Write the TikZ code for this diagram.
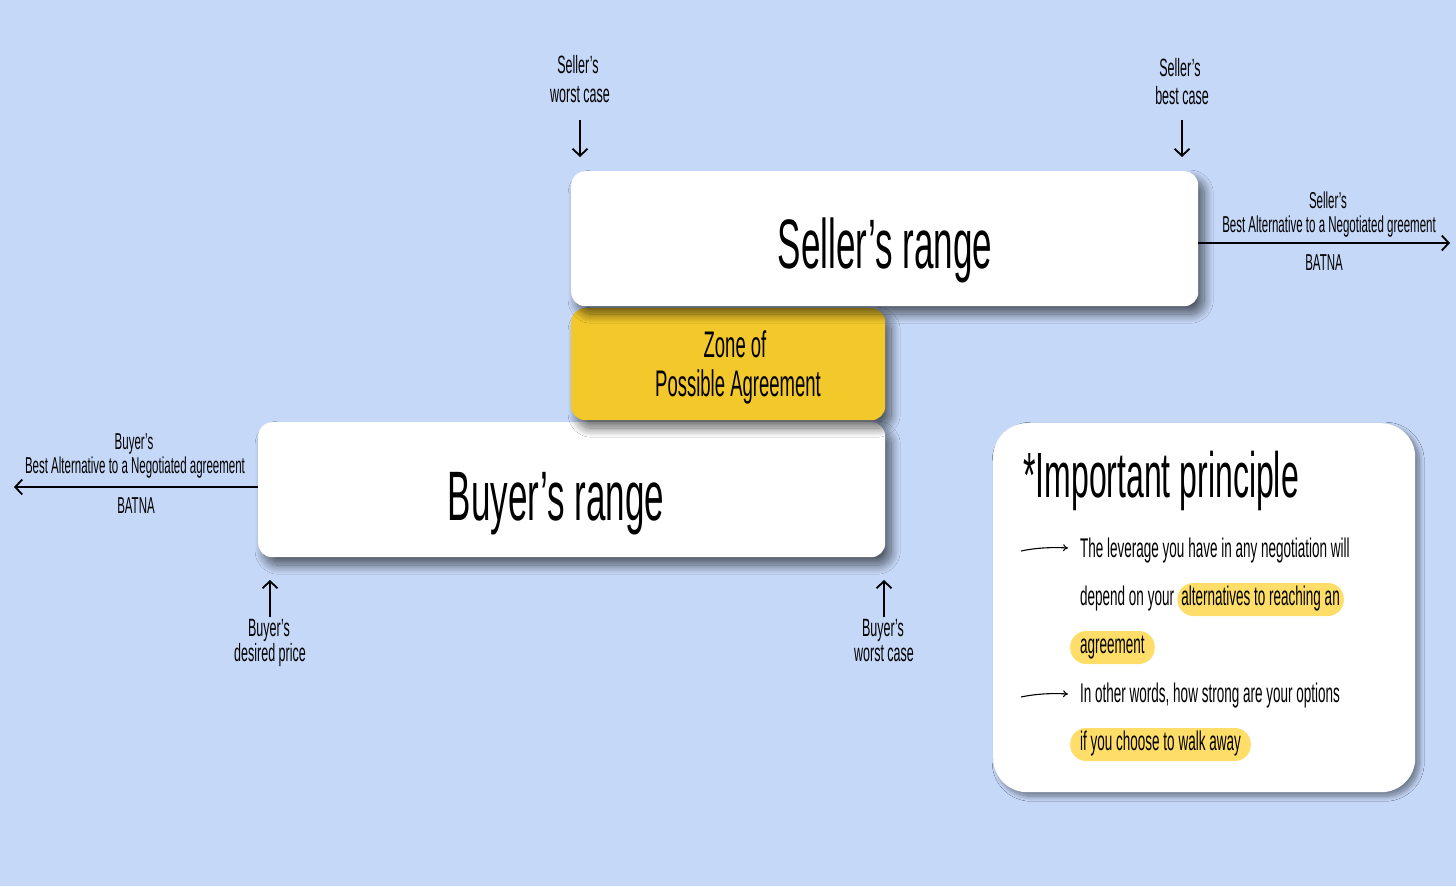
\documentclass[tikz,border=0pt]{standalone}
\usepackage{fontspec}
\newfontfamily\hand[FakeStretch=0.5]{Liberation Sans}
\usetikzlibrary{arrows.meta,shadows.blur}
\definecolor{bg}{RGB}{198,216,248}
\definecolor{zopa}{RGB}{242,200,42}
\definecolor{hl}{RGB}{254,222,104}
\begin{document}
\begin{tikzpicture}[x=1pt,y=-1pt,
  panel/.style={draw=none, fill=white, rounded corners=14pt, anchor=north west, inner sep=0pt,
    blur shadow={shadow xshift=6pt, shadow yshift=-8pt, shadow blur radius=9pt, shadow opacity=60, shadow blur steps=20}},
  big/.style={font=\hand\fontsize{70}{80}\selectfont, anchor=base, inner sep=0pt},
  mid/.style={font=\hand\fontsize{37}{42}\selectfont, anchor=base, inner sep=0pt},
  lbl/.style={font=\hand\fontsize{25}{28}\selectfont, anchor=base, inner sep=0pt},
  blbl/.style={font=\hand\fontsize{23}{26}\selectfont, anchor=base, inner sep=0pt},
  body/.style={font=\hand\fontsize{27}{30}\selectfont, anchor=base west, inner sep=0pt},
  hlbox/.style={body, fill=hl, rounded corners=16pt, text height=18pt, text depth=7pt, inner ysep=4pt},
  arr/.style={line width=1.8pt, -{Straight Barb[length=7pt,width=15pt,line width=1.8pt]}},
  bul/.style={line width=1.1pt, -{To[length=5pt,width=7pt]}}
]
\fill[bg] (0,0) rectangle (1456,886);
\useasboundingbox (0,0) rectangle (1456,886);

% boxes
\node[panel, minimum width=627pt, minimum height=135pt] (buyer) at (258,422) {};
\node[panel, fill=zopa, minimum width=314pt, minimum height=112pt] (zopa) at (571,308) {};
\node[panel, minimum width=627pt, minimum height=135pt] (seller) at (571,171) {};
\node[panel, rounded corners=34pt, minimum width=422pt, minimum height=369pt,
  blur shadow={shadow xshift=4pt, shadow yshift=-4pt, shadow blur radius=5pt, shadow opacity=25, shadow blur steps=12}] (imp) at (993,423) {};

% box texts
\node[big] (sr) at (885,268) {Seller’s range};
\node[big] (br) at (556,520) {Buyer’s range};
\node[mid] (z1) at (735,357) {Zone of};
\node[mid] (z2) at (738,396) {Possible Agreement};

% seller worst case
\node[lbl] (sw1) at (578,73) {Seller’s};
\node[lbl] (sw2) at (580,102) {worst case};
\coordinate (swa) at (580,120);
\coordinate (swb) at (580,157);
\draw[arr] (swa) -- (swb);

% seller best case
\node[lbl] (sb1) at (1180,76) {Seller’s};
\node[lbl] (sb2) at (1182,104) {best case};
\coordinate (sba) at (1182,120);
\coordinate (sbb) at (1182,157);
\draw[arr] (sba) -- (sbb);

% seller BATNA
\node[blbl] (sn1) at (1328,208) {Seller’s};
\node[blbl] (sn2) at (1329,232) {Best Alternative to a Negotiated greement};
\node[blbl] (sn3) at (1324,270) {BATNA};
\coordinate (sne) at (1450,243);
\draw[arr] (seller.east |- sne) -- (sne);

% buyer BATNA
\node[blbl] (bn1) at (134,449) {Buyer’s};
\node[blbl] (bn2) at (135,473) {Best Alternative to a Negotiated agreement};
\node[blbl] (bn3) at (136,513) {BATNA};
\coordinate (bne) at (14,487);
\draw[arr] (buyer.west |- bne) -- (bne);

% buyer desired price
\node[lbl] (bd1) at (269,636) {Buyer’s};
\node[lbl] (bd2) at (270,661) {desired price};
\coordinate (bda) at (270,617);
\coordinate (bdb) at (270,580);
\draw[arr] (bda) -- (bdb);

% buyer worst case
\node[lbl] (bw1) at (883,636) {Buyer’s};
\node[lbl] (bw2) at (884,661) {worst case};
\coordinate (bwa) at (884,617);
\coordinate (bwb) at (884,580);
\draw[arr] (bwa) -- (bwb);

% important principle
\node[font=\hand\fontsize{64}{70}\selectfont, anchor=base west, inner sep=0pt] (ip) at (1023,497) {*Important principle};
\node[body] (p1) at (1080,557) {The leverage you have in any negotiation will};
\node[body] (p2a) at (1080,605) {depend on your};
\node[hlbox, inner xsep=4pt] (p2b) at ([xshift=3pt]p2a.base east) {alternatives to reaching an};
\node[hlbox, inner xsep=10pt] (p3) at (1070,653) {agreement};
\node[body] (p4) at (1080,702) {In other words, how strong are your options};
\node[hlbox, inner xsep=10pt] (p5) at (1070,750) {if you choose to walk away};

\coordinate (b1s) at (1021,551);
\coordinate (b1e) at (1068,548);
\draw[bul] (b1s) .. controls (1035,548) and (1050,547) .. (b1e);
\coordinate (b2s) at (1021,697);
\coordinate (b2e) at (1068,694);
\draw[bul] (b2s) .. controls (1035,694) and (1050,693) .. (b2e);
\end{tikzpicture}
\end{document}
